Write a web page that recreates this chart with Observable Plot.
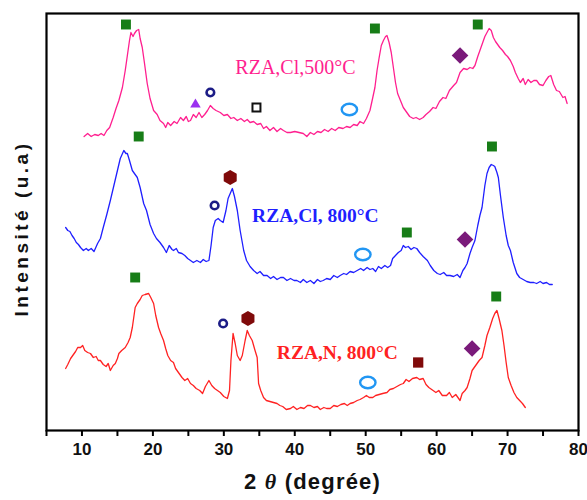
<!DOCTYPE html>
<html>
<head>
<meta charset="utf-8">
<script src="https://cdn.jsdelivr.net/npm/d3@7"></script>
<script src="https://cdn.jsdelivr.net/npm/@observablehq/plot@0.6"></script>
<style>
  html, body { margin: 0; padding: 0; background: #fff; }
  #chart { width: 587px; height: 500px; }
</style>
</head>
<body>
<div id="chart"></div>
<script>
// ---------- data (2θ in degrees, intensity in arbitrary units incl. vertical offset) ----------
const xTicks = [5, 10, 15, 20, 25, 30, 35, 40, 45, 50, 55, 60, 65, 70, 75, 80];
const xTickLabels = ["", "10", "", "20", "", "30", "", "40", "", "50", "", "60", "", "70", "", "80"];

// RZA,Cl,500°C (pink)
const pinkX = [10.3,10.8,11.3,11.8,12.3,12.7,13.1,13.5,13.9,14.4,14.8,15.2,15.7,16.1,16.4,16.7,16.9,17.2,17.4,17.7,18.0,18.2,18.5,18.8,19.2,19.6,20.1,20.6,21.0,21.5,21.8,22.1,22.5,23.0,23.4,23.9,24.3,24.7,25.0,25.3,25.7,26.1,26.5,26.9,27.3,27.7,28.1,28.5,28.9,29.5,30.0,30.5,31.0,31.4,31.9,32.4,32.9,33.3,33.7,34.2,34.7,35.2,35.6,36.0,36.5,37.0,37.5,38.0,38.4,38.9,39.4,40.0,40.6,41.2,41.7,42.2,42.7,43.2,43.7,44.2,44.7,45.2,45.7,46.2,46.8,47.3,47.8,48.3,48.8,49.2,49.7,50.1,50.6,51.0,51.3,51.6,51.9,52.2,52.5,52.8,53.0,53.3,53.6,53.9,54.2,54.5,54.9,55.3,55.8,56.2,56.7,57.1,57.6,58.1,58.5,59.0,59.5,59.9,60.4,60.9,61.3,61.8,62.4,62.8,63.3,63.8,64.3,64.7,65.1,65.4,65.8,66.1,66.5,66.8,67.1,67.4,67.7,68.0,68.3,68.6,68.9,69.3,69.7,70.0,70.4,70.8,71.1,71.5,71.8,72.2,72.5,72.9,73.3,73.7,74.1,74.5,75.0,75.4,75.8,76.1,76.5,76.9,77.3,77.8,78.1,78.4];
const pinkY = [294,297,294,296,295,297,295,300,303,313,322,330,343,360,375,390,398,394,397,400,401,392,383,368,347,332,320,316,310,307,303,308,305,309,307,313,310,314,309,310,316,313,318,313,316,320,325,322,320,318,315,316,312,313,310,312,309,311,308,309,306,307,302,304,300,303,299,302,300,298,298,299,298,297,294,298,296,299,298,301,299,302,300,303,302,304,303,306,305,309,307,312,320,333,343,360,373,385,390,394,395,388,378,363,348,337,330,323,318,314,312,313,311,313,316,319,323,322,329,333,332,340,345,348,358,362,361,363,362,365,374,380,388,394,398,402,400,393,389,386,383,380,376,374,370,364,358,352,348,352,346,351,348,350,350,346,345,350,354,355,346,340,339,333,334,327];

// RZA,Cl, 800°C (blue)
const blueX = [7.7,8.0,8.3,8.6,8.9,9.2,9.5,9.8,10.2,10.6,10.9,11.3,11.7,12.2,12.6,13.0,13.5,14.0,14.5,15.0,15.4,15.9,16.2,16.4,16.7,17.1,17.5,17.8,18.2,18.7,19.1,19.6,20.1,20.5,21.0,21.5,21.9,22.3,22.7,22.9,23.3,23.6,24.1,24.5,24.9,25.3,25.7,26.2,26.7,27.1,27.5,27.9,28.2,28.5,28.8,29.2,29.5,29.9,30.3,30.6,30.9,31.2,31.5,31.9,32.3,32.8,33.2,33.7,34.2,34.7,35.1,35.6,36.1,36.6,37.0,37.5,38.0,38.4,38.9,39.4,39.9,40.3,40.8,41.2,41.7,42.2,42.7,43.2,43.6,44.0,44.5,45.0,45.5,46.0,46.4,46.9,47.3,47.8,48.3,48.8,49.3,49.7,50.2,50.6,51.0,51.4,51.8,52.2,52.7,53.1,53.5,53.8,54.2,54.6,55.0,55.3,55.6,56.0,56.4,56.8,57.2,57.6,58.1,58.7,59.1,59.6,60.1,60.5,61.0,61.4,61.9,62.4,62.9,63.3,63.7,64.0,64.3,64.7,65.0,65.4,65.8,66.1,66.4,66.8,67.1,67.4,67.7,68.0,68.2,68.5,68.7,69.0,69.4,69.8,70.1,70.4,70.8,71.3,71.7,72.2,72.7,73.2,73.7,74.1,74.6,75.0,75.5,75.9,76.3];
const blueY = [203,200,199,195,192,188,186,183,180,182,180,182,179,187,192,203,216,230,245,260,272,280,277,277,270,260,256,253,243,227,220,206,197,192,188,183,178,185,181,180,182,178,177,175,172,170,168,170,168,171,169,170,185,203,210,212,210,208,220,232,237,242,234,220,200,180,170,164,160,157,159,155,155,152,154,151,153,153,150,152,150,150,148,151,148,150,147,151,149,150,152,151,155,153,155,157,156,159,158,160,162,160,163,161,162,159,164,162,165,163,165,172,175,178,180,185,183,184,181,183,182,178,174,170,165,160,157,156,158,155,155,154,156,153,160,163,167,177,183,190,205,215,223,245,257,263,266,265,264,258,253,235,213,195,185,180,168,157,153,151,149,148,148,147,149,147,148,146,146];

// RZA,N, 800°C (red)
const redX = [7.7,8.0,8.4,8.8,9.1,9.4,9.8,10.1,10.4,10.8,11.2,11.6,12.0,12.3,12.6,13.0,13.4,13.7,14.0,14.4,14.7,15.0,15.2,15.6,16.1,16.5,16.8,17.1,17.5,17.8,18.2,18.5,18.9,19.4,19.7,20.1,20.4,20.8,21.1,21.5,21.8,22.1,22.5,22.9,23.2,23.6,24.1,24.5,24.9,25.3,25.7,26.1,26.6,27.0,27.4,27.9,28.3,28.7,29.1,29.5,30.0,30.5,30.8,31.0,31.3,31.6,31.9,32.3,32.6,33.0,33.3,33.6,34.0,34.4,34.7,34.9,35.2,35.6,36.0,36.5,37.0,37.5,37.9,38.3,38.8,39.4,39.8,40.3,40.8,41.3,41.8,42.2,42.7,43.2,43.6,44.1,44.5,45.0,45.5,46.0,46.5,47.0,47.4,47.8,48.3,48.8,49.2,49.7,50.1,50.5,51.0,51.4,51.9,52.4,53.0,53.4,53.9,54.4,54.9,55.3,55.7,56.1,56.6,57.2,57.6,58.1,58.5,58.9,59.5,59.9,60.3,60.8,61.4,61.8,62.2,62.7,63.3,63.6,64.0,64.3,64.7,65.0,65.3,65.7,66.0,66.4,66.8,67.1,67.5,67.9,68.2,68.5,68.8,69.2,69.5,69.8,70.1,70.5,70.9,71.3,71.7,72.1,72.5];
const redY = [62,66,72,76,79,83,83,85,80,78,77,73,74,70,70,66,64,67,60,65,67,72,77,80,83,88,93,103,123,127,131,135,136,137,133,127,115,103,97,90,82,75,70,68,62,58,53,50,52,47,45,42,40,37,44,50,45,42,40,38,34,32,40,70,97,87,75,70,75,90,100,95,90,80,73,47,40,33,30,29,28,27,25,24,21,22,24,21,23,22,25,25,23,24,21,23,22,22,25,24,26,27,25,27,28,30,31,33,35,33,33,35,36,37,38,41,42,44,46,47,51,49,52,53,51,52,46,43,40,38,40,35,35,38,33,36,30,37,40,43,52,60,63,67,70,73,85,95,103,112,117,120,112,100,85,68,53,45,38,33,30,27,23];

// phase markers: [2θ, intensity]
const greenSqX = [16.2, 51.3, 65.8, 18.0, 55.8, 67.8, 17.5, 68.4];
const greenSqY = [406, 402, 406, 294, 198, 284, 153, 134];
const diamondX = [63.3, 64.0, 65.0];
const diamondY = [375, 191, 82];
const navyRingX = [28.1, 28.7, 29.9];
const navyRingY = [338, 225, 107];
const lightRingX = [47.7, 49.6, 50.3];
const lightRingY = [321, 176, 48];
const hexX = [30.9, 33.4];
const hexY = [253, 112];
const triX = [26.0];
const triY = [326];
const openSqX = [34.6];
const openSqY = [323];
const maroonSqX = [57.4];
const maroonSqY = [68];

const seriesLabels = ["RZA,Cl,500°C", "RZA,Cl, 800°C", "RZA,N, 800°C"];
const labelX = [40.1, 42.9, 46.0];
const labelY = [363, 215, 78];

// ---------- helpers ----------
const pts = (xs, ys) => xs.map((x, i) => ({x, y: ys[i]}));
const ellipse = {
  draw(context, size) {
    const r = Math.sqrt(size / Math.PI);
    const rx = r * 1.1, ry = r * 0.82, k = 0.5523;
    context.moveTo(rx, 0);
    context.bezierCurveTo(rx, ry * k, rx * k, ry, 0, ry);
    context.bezierCurveTo(-rx * k, ry, -rx, ry * k, -rx, 0);
    context.bezierCurveTo(-rx, -ry * k, -rx * k, -ry, 0, -ry);
    context.bezierCurveTo(rx * k, -ry, rx, -ry * k, rx, 0);
    context.closePath();
  }
};

const labelData = seriesLabels.map((t, i) => ({t, x: labelX[i], y: labelY[i]}));

const chart = Plot.plot({
  width: 587,
  height: 500,
  marginLeft: 46,
  marginRight: 9,
  marginTop: 13,
  marginBottom: 70,
  style: {fontFamily: "'Liberation Sans', Arial, sans-serif", background: "#fff"},
  x: {domain: [5, 80]},
  y: {domain: [0, 417], axis: null},
  marks: [
    Plot.line(pts(pinkX, pinkY), {x: "x", y: "y", stroke: "#ff1f8f", strokeWidth: 1.3}),
    Plot.line(pts(blueX, blueY), {x: "x", y: "y", stroke: "#1f1fff", strokeWidth: 1.3}),
    Plot.line(pts(redX, redY), {x: "x", y: "y", stroke: "#ff2222", strokeWidth: 1.3}),
    Plot.dot(pts(greenSqX, greenSqY), {x: "x", y: "y", symbol: "square", r: 5.6, fill: "#177d17"}),
    Plot.dot(pts(diamondX, diamondY), {x: "x", y: "y", symbol: "diamond2", r: 7.5, fill: "#7a1a7a"}),
    Plot.dot(pts(navyRingX, navyRingY), {x: "x", y: "y", r: 3.8, fill: "none", stroke: "#1c1c86", strokeWidth: 2.6}),
    Plot.dot(pts(lightRingX, lightRingY), {x: "x", y: "y", symbol: ellipse, r: 7, fill: "none", stroke: "#2196f3", strokeWidth: 2.4}),
    Plot.dot(pts(hexX, hexY), {x: "x", y: "y", symbol: "hexagon", r: 6.5, fill: "#7f0a0a"}),
    Plot.dot(pts(triX, triY), {x: "x", y: "y", symbol: "triangle", r: 3.9, fill: "#9b30f0"}),
    Plot.dot(pts(openSqX, openSqY), {x: "x", y: "y", symbol: "square", r: 4.5, fill: "#fff", stroke: "#111", strokeWidth: 2}),
    Plot.dot(pts(maroonSqX, maroonSqY), {x: "x", y: "y", symbol: "square", r: 5.8, fill: "#800a0a"}),
    Plot.text(labelData.slice(0, 1), {x: "x", y: "y", text: "t", fill: "#ff1f8f", fontSize: 20, fontFamily: "'Liberation Serif', 'Times New Roman', serif"}),
    Plot.text(labelData.slice(1, 2), {x: "x", y: "y", text: "t", fill: "#1f1fff", fontSize: 19.5, fontWeight: "bold", fontFamily: "'Liberation Serif', 'Times New Roman', serif"}),
    Plot.text(labelData.slice(2, 3), {x: "x", y: "y", text: "t", fill: "#ff2222", fontSize: 19.5, fontWeight: "bold", fontFamily: "'Liberation Serif', 'Times New Roman', serif"}),
    Plot.frame({stroke: "#000", strokeWidth: 2.2}),
    Plot.axisX({ticks: xTicks, tickFormat: (d, i) => xTickLabels[xTicks.indexOf(d)], tickSize: 6, tickPadding: 6, strokeWidth: 2, fontSize: 17, fontWeight: "bold", label: null, fill: "#111"}),
    Plot.text(["2θ (degrée)"], {frameAnchor: "bottom", dy: 58, text: d => d, fontSize: 22, fontWeight: "bold", fill: "#111"}),
    Plot.text(["Intensité (u.a)"], {frameAnchor: "left", y: [202], dx: -25, rotate: -90, textAnchor: "middle", text: d => d, fontSize: 19, fontWeight: "bold", fill: "#111"})
  ]
});

document.getElementById("chart").appendChild(chart);

// styling tweaks: italic θ, letter spacing on axis titles
d3.select(chart).selectAll("text").each(function() {
  const el = d3.select(this);
  const t = this.textContent;
  if (t === "2θ (degrée)") {
    el.text(null).attr("letter-spacing", "1.2px");
    el.append("tspan").text("2 ");
    el.append("tspan").attr("font-style", "italic").attr("font-family", "'Liberation Serif', serif").text("θ");
    el.append("tspan").text(" (degrée)");
  } else if (t === "Intensité (u.a)") {
    el.attr("letter-spacing", "3.5px");
  }
});
</script>
</body>
</html>
